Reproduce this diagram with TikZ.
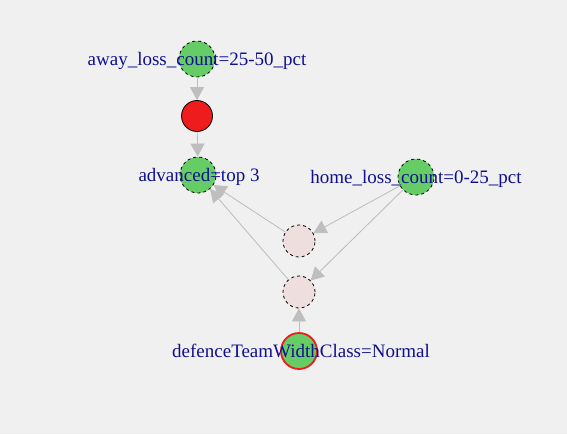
\documentclass[tikz,border=0pt]{standalone}
\usepackage{fontspec}
\setmainfont{Liberation Serif}
\usetikzlibrary{arrows.meta}
\definecolor{bgGray}{HTML}{F0F0F0}
\definecolor{itemGreen}{HTML}{66CC66}
\definecolor{ruleRed}{HTML}{EE1C1C}
\definecolor{rulePink}{HTML}{EEDEDE}
\definecolor{edgeGray}{HTML}{BEBEBE}
\definecolor{labelBlue}{HTML}{10108C}

\begin{document}
\begin{tikzpicture}[x=1pt, y=-1pt]
  \tikzset{item/.style={circle,draw=black,dashed,line width=0.8pt,fill=itemGreen,minimum size=36pt,inner sep=0pt},
           rule/.style={circle,draw=black,dashed,line width=0.8pt,fill=rulePink,minimum size=32pt,inner sep=0pt},
           edge/.style={-{Triangle[length=13pt,width=14pt]},draw=edgeGray,fill=edgeGray,line width=0.8pt},
           itemlabel/.style={text=labelBlue,font=\fontsize{19}{19}\selectfont,inner sep=0pt,anchor=base}}
  \fill[bgGray] (0,0) rectangle (567,434);
  \useasboundingbox (0,0) rectangle (567,434);
  % items and rules
  \node[item] (away) at (197,59) {};
  \node[rule,fill=ruleRed,solid,minimum size=31pt] (rule-1) at (197,116) {};
  \node[item] (advanced) at (198,175) {};
  \node[item] (home) at (416,177) {};
  \node[rule] (rule-2) at (299,241) {};
  \node[rule] (rule-3) at (299,292) {};
  \node[item,draw=ruleRed,solid,line width=1.8pt] (defence) at (299,351) {};
  % connectors
  \draw[edge] (away) -- (rule-1);
  \draw[edge] (rule-1) -- (advanced);
  \draw[edge] (home) -- (rule-2);
  \draw[edge] (home) -- (rule-3);
  \draw[edge] (rule-2) -- (advanced);
  \draw[edge] (rule-3) -- (advanced);
  \draw[edge] (defence) -- (rule-3);
  % labels
  \node[itemlabel] (away-lab) at (197,65.5) {away\_loss\_count=25-50\_pct};
  \node[itemlabel] (advanced-lab) at (199,181.5) {advanced=top 3};
  \node[itemlabel] (home-lab) at (416,183.5) {home\_loss\_count=0-25\_pct};
  \node[itemlabel] (defence-lab) at (301,357.5) {defenceTeamWidthClass=Normal};
\end{tikzpicture}
\end{document}
